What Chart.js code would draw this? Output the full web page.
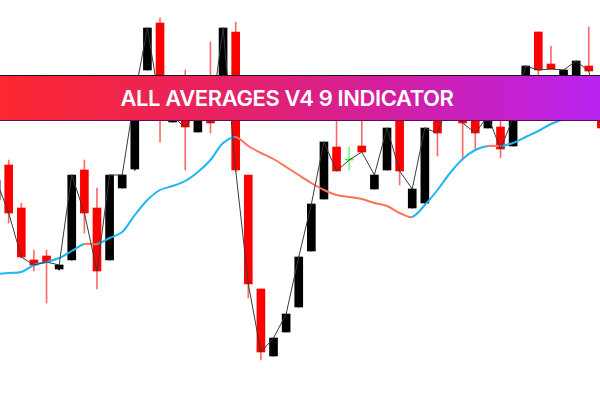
<!DOCTYPE html>
<html>
<head>
<meta charset="utf-8">
<script src="https://cdn.jsdelivr.net/npm/chart.js@4"></script>
<style>
  body { margin: 0; background: #fff; }
  #wrap { position: relative; width: 600px; height: 400px; overflow: hidden; }
  #banner {
    position: absolute; left: 0; top: 75px; width: 600px; height: 44px;
    border-top: 1px solid #1a1a1a; border-bottom: 1px solid #5a1050;
    background: linear-gradient(to right, #fb2730 0%, #e8225e 35%, #d21fa2 65%, #b923f0 100%);
    color: #fff; font-family: Inter, "Open Sans", sans-serif; font-weight: 600;
    font-size: 22px; line-height: 44px; text-align: center; letter-spacing: -0.4px;
    box-sizing: content-box; text-indent: -26px;
  }
</style>
</head>
<body>
<div id="wrap">
  <canvas id="myChart" width="600" height="400"></canvas>
  <div id="banner">ALL AVERAGES V4 9 INDICATOR</div>
</div>
<script>
// bar index, starts one bar left of the visible window
const bars = [-1, 0, 1, 2, 3, 4, 5, 6, 7, 8, 9, 10, 11, 12, 13, 14, 15, 16, 17, 18, 19, 20, 21, 22, 23,
  24, 25, 26, 27, 28, 29, 30, 31, 32, 33, 34, 35, 36, 37, 38, 39, 40, 41, 42, 43, 44, 45, 46, 47]

const opens = [200, 235, 192, 140, 144, 131, 140, 230, 192, 140, 212, 231, 330, 377, 278, 283, 268, 292, 300, 368,
  225, 111, 44, 68, 93, 149, 201, 253, 240, 254, 211, 230, 282, 192, 197, 285, 282, 292, 290, 272,
  273, 254, 315, 368, 336, 320, 318, 334, 290]
const highs = [222, 240, 197, 150, 150, 135, 225, 240, 212, 225, 225, 305, 372, 382, 285, 330, 292, 358, 372, 378,
  225, 111, 62, 86, 143, 196, 258, 300, 253, 300, 225, 272, 290, 211, 272, 295, 305, 300, 295, 288,
  282, 285, 334, 368, 354, 330, 339, 373, 300]
const lows = [195, 177, 142, 129, 97, 130, 140, 167, 111, 140, 212, 230, 330, 258, 278, 230, 268, 267, 300, 228,
  102, 40, 44, 68, 93, 149, 201, 229, 230, 248, 211, 230, 215, 192, 197, 244, 282, 240, 250, 272,
  242, 254, 315, 320, 331, 320, 318, 329, 272]
const closes = [220, 187, 143, 135, 138, 135, 225, 187, 129, 225, 225, 305, 372, 295, 283, 273, 290, 277, 372, 230,
  116, 48, 62, 86, 143, 196, 258, 229, 240, 248, 225, 272, 229, 211, 272, 267, 300, 277, 267, 284,
  251, 282, 334, 330, 331, 330, 339, 329, 272]

// moving average
const average = [126, 127, 128, 135, 138, 142, 149, 156, 156, 162, 168, 185, 200, 210, 214, 219, 228, 240, 257, 263,
  254, 247, 241, 233, 225, 217, 210, 205, 203, 201, 197, 194, 187, 183, 195, 210, 227, 241, 250, 254,
  254, 257, 263, 269, 276, 281, 288, 294, 300]

const bodyColors = []
const wickColors = []
for (i = 0; i < bars.length; i++) {
    if (closes[i] < opens[i]) {
        bodyColors.push('#ff0000')
        wickColors.push('#ff6b6b')
    } else if (closes[i] > opens[i]) {
        bodyColors.push('#000000')
        wickColors.push('#000000')
    } else {
        bodyColors.push('#33ff33')
        wickColors.push('#7dff7d')
    }
}

const ctx = document.getElementById('myChart').getContext('2d');
const myChart = new Chart(ctx, {
    type: 'bar',
    data: {
        datasets: [{
            type: 'line',
            label: 'close',
            data: bars.map((b, k) => ({ x: b, y: closes[k] })),
            borderColor: '#3a3a3a',
            borderWidth: 1,
            pointRadius: 0,
            tension: 0,
            order: 0
        }, {
            type: 'line',
            label: 'average',
            data: bars.map((b, k) => ({ x: b, y: average[k] })),
            borderWidth: 2,
            pointRadius: 0,
            tension: 0.3,
            segment: {
                borderColor: c => c.p1.parsed.y > c.p0.parsed.y ? '#20b6f2' : '#fb7359'
            },
            order: 1
        }, {
            label: 'body',
            data: bars.map((b, k) => ({ x: b, y: [opens[k], closes[k]] })),
            backgroundColor: bodyColors,
            barThickness: 8,
            minBarLength: 1,
            grouped: false,
            order: 2
        }, {
            label: 'wick',
            data: bars.map((b, k) => ({ x: b, y: [lows[k], highs[k]] })),
            backgroundColor: wickColors,
            barThickness: 1,
            grouped: false,
            order: 3
        }]
    },
    options: {
        responsive: false,
        animation: false,
        devicePixelRatio: 1,
        layout: { padding: 0 },
        plugins: {
            legend: { display: false },
            tooltip: { enabled: false }
        },
        scales: {
            x: { type: 'linear', display: false, min: -0.69, max: 46.89, offset: false, grid: { offset: false } },
            y: { display: false, min: 0, max: 400 }
        }
    }
});
</script>
</body>
</html>
